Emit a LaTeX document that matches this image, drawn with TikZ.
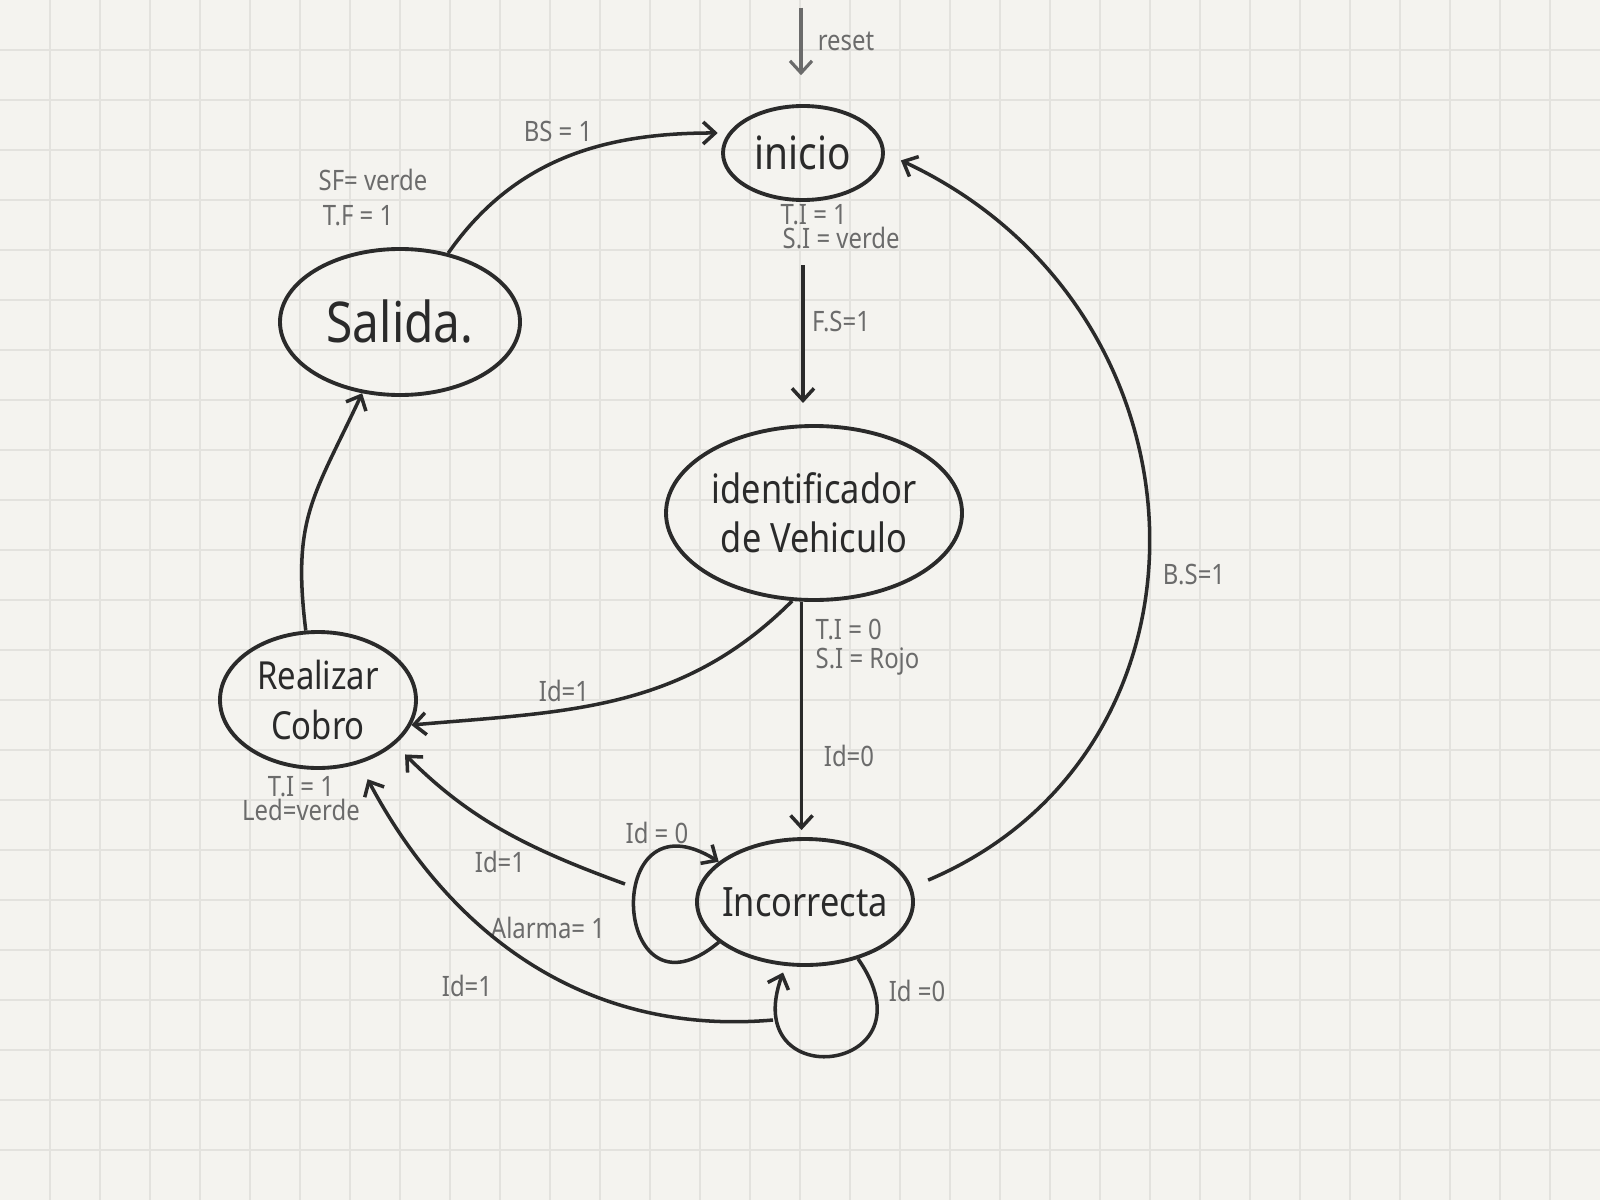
\documentclass[tikz,border=0pt]{standalone}
\usepackage{fontspec}
\setmainfont{Noto Sans}[FakeStretch=0.85]
\usepackage{tikz}
\usetikzlibrary{arrows.meta,shapes.geometric}
\definecolor{paper}{HTML}{F4F3EF}
\definecolor{gridcol}{HTML}{E3E2DE}
\definecolor{ink}{HTML}{2A2A2A}
\definecolor{pencil}{HTML}{6B6B6B}

\begin{document}
\begin{tikzpicture}[state/.style={ellipse, draw=ink, line width=1.1pt, inner sep=0pt, text=ink, align=center},
lbl/.style={text=pencil, font=\fontsize{8}{9}\selectfont, inner sep=0pt},
edge/.style={draw=ink, line width=1pt, -{Straight Barb[length=1.2mm,width=2.2mm]}}]
\useasboundingbox (0,0) rectangle (16,12);
\fill[paper] (0,0) rectangle (16,12);
\draw[step=0.5cm, color=gridcol, line width=0.5pt] (0.001,0.001) grid (15.999,11.999);

\node[state, minimum width=1.6cm, minimum height=0.94cm, font=\fontsize{13}{15}\selectfont] (inicio) at (8.03,10.47) {inicio};
\node[state, minimum width=2.4cm, minimum height=1.46cm, font=\fontsize{16}{18}\selectfont] (salida) at (4.00,8.78) {Salida.};
\node[state, minimum width=2.96cm, minimum height=1.74cm, font=\fontsize{11.5}{14}\selectfont] (ident) at (8.14,6.87) {identificador\\de Vehiculo};
\node[state, minimum width=1.96cm, minimum height=1.36cm, font=\fontsize{11}{14}\selectfont] (realizar) at (3.18,5.00) {Realizar\\Cobro};
\node[state, minimum width=2.16cm, minimum height=1.26cm, inner xsep=-2.5pt, font=\fontsize{11.5}{14}\selectfont] (incorr) at (8.05,2.98) {Incorrecta};

\node[lbl] (reset) at (8.46,11.59) {reset};
\node[lbl, anchor=west] (ti1) at (7.80,9.85) {T.I = 1};
\node[lbl, anchor=west] (si1) at (7.82,9.62) {S.I = verde};
\node[lbl] (fs) at (8.41,8.78) {F.S=1};
\node[lbl] (sf) at (3.73,10.20) {SF= verde};
\node[lbl] (tf) at (3.58,9.84) {T.F = 1};
\node[lbl] (bs) at (5.58,10.69) {BS = 1};
\node[lbl, anchor=west] (ti0) at (8.15,5.71) {T.I = 0};
\node[lbl, anchor=west] (si0) at (8.15,5.38) {S.I = Rojo};
\node[lbl] (id0a) at (8.49,4.44) {Id=0};
\node[lbl] (id1a) at (5.64,5.09) {Id=1};
\node[lbl] (bs2) at (11.94,6.25) {B.S=1};
\node[lbl] (ti1b) at (3.01,4.13) {T.I = 1};
\node[lbl] (led) at (3.01,3.90) {Led=verde};
\node[lbl] (id1b) at (5.00,3.38) {Id=1};
\node[lbl] (alarma) at (5.48,2.72) {Alarma= 1};
\node[lbl] (id1c) at (4.67,2.14) {Id=1};
\node[lbl] (id0b) at (6.57,3.67) {Id = 0};
\node[lbl] (id0c) at (9.17,2.09) {Id =0};

% free ends
\coordinate (rst) at (8.01,11.92);
\coordinate (loopL) at (6.25,3.16);
\coordinate (loopB) at (7.73,1.80);

\draw[edge, draw=pencil, line width=0.9pt, shorten >=8.2pt] (rst) -- (rst |- inicio.north);
\draw[edge, shorten >=3pt] (salida.55) to[out=55, in=180] (inicio.165);
\draw[edge, shorten <=18pt, shorten >=6pt] (inicio.south) -- (inicio.south |- ident.north);
\draw[edge, shorten >=2pt] (ident.262) -- (ident.262 |- incorr.north);
\draw[edge] (ident.256) to[out=225, in=5] (realizar.-15);
\draw[edge] (realizar.100) to[out=97, in=245, looseness=1.2] (salida.242);
\draw[edge, shorten <=5pt, shorten >=5pt] (incorr.8) .. controls +(23:3.5) and +(-25:3.7) .. (inicio.east);
\draw[edge, shorten >=4pt] (loopL) to[out=160, in=-45] (realizar.-30);
\draw[edge, shorten >=5pt] (loopB) to[out=185, in=-62] (realizar.-57);
\draw[edge] (incorr.205) .. controls +(220:1.4) and +(148:1.4) .. (incorr.155);
\draw[edge, shorten >=2pt] (incorr.-47) .. controls +(-55:1.4) and +(250:1.4) .. (incorr.253);
\end{tikzpicture}
\end{document}
